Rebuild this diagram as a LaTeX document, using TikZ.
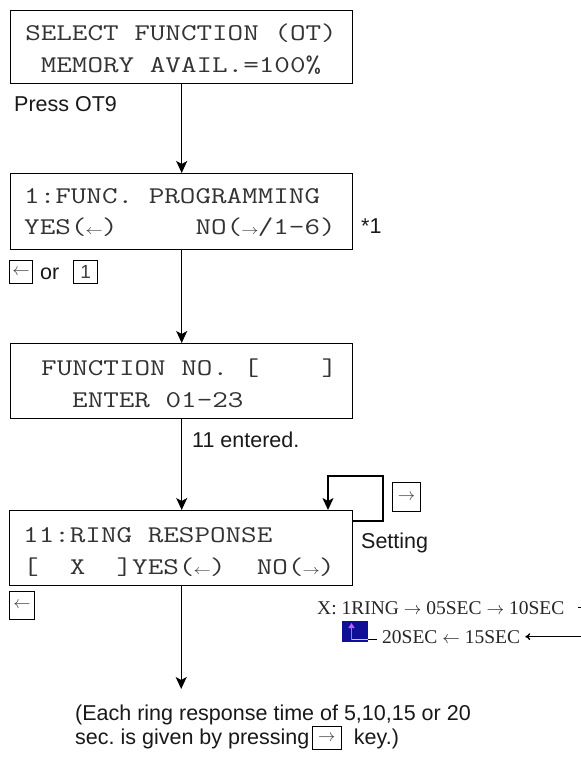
\documentclass[tikz,border=0pt]{standalone}
\usepackage{fontspec}
\setmainfont{Liberation Sans}
\newfontfamily\tmsfont{Liberation Serif}
\usepackage{graphicx}
\usetikzlibrary{arrows.meta}
\frenchspacing
\definecolor{navyicon}{RGB}{16,16,150}
\definecolor{pinkarrow}{RGB}{200,90,255}
\definecolor{yellowline}{RGB}{230,230,0}
\newcommand\lcdtext[1]{\scalebox{1.26}[1]{\fontsize{24}{28}\ttfamily\color{black!80}#1}}
\newcommand\lcdla{\makebox[\fontdimen2\font]{\scalebox{0.55}{$\leftarrow$}}}
\newcommand\lcdra{\makebox[\fontdimen2\font]{\scalebox{0.55}{$\rightarrow$}}}
\begin{document}
\begin{tikzpicture}[x=1pt,y=-1pt,
  dbox/.style={draw, line width=1.4pt, inner sep=0, anchor=north west},
  lcd/.style={inner sep=0, anchor=base west},
  lbl/.style={inner sep=0, anchor=base west, font=\fontsize{21.5}{24}\selectfont, text=black!90},
  keybox/.style={draw, line width=1.1pt, inner sep=0, anchor=north west, font=\fontsize{17}{20}\selectfont, text=black!75},
  arr/.style={line width=1.4pt, -{Stealth[length=12pt,width=11pt,inset=3pt]}},
  conn/.style={line width=1.4pt},
  xtext/.style={inner sep=0, anchor=base west, font=\tmsfont\fontsize{19.5}{22}\selectfont, text=black!85}]

\useasboundingbox (0,0) rectangle (581,758);
\fill[white] (0,0) rectangle (581,758);

% box 1
\node[dbox, minimum width=342pt, minimum height=73pt] (b1) at (10,10) {};
\node[lcd, anchor=base] (t1a) at (181,40) {\lcdtext{SELECT~FUNCTION~(OT)}};
\node[lcd, anchor=base] (t1b) at (181,72) {\lcdtext{MEMORY~AVAIL.=100\%}};
\node[lbl] (press) at (14,111) {Press OT9};

% box 2
\node[dbox, minimum width=342pt, minimum height=76pt] (b2) at (10,173) {};
\node[lcd] (t2a) at (24,203) {\lcdtext{1:FUNC.~PROGRAMMING}};
\node[lcd] (t2b) at (24,234) {\lcdtext{YES(\lcdla)~~~~~NO(\lcdra/1-6)}};
\node[lbl] (star) at (361,233) {*1};
\node[keybox, minimum width=23pt, minimum height=23pt] (k1) at (9,260) {$\leftarrow$};
\node[lbl] (or) at (40,279) {or};
\node[keybox, minimum width=24pt, minimum height=23pt, font=\fontsize{19}{20}\selectfont] (k2) at (73,260) {1};

% box 3
\node[dbox, minimum width=342pt, minimum height=75pt] (b3) at (10,343) {};
\node[lcd] (t3a) at (41,375) {\lcdtext{FUNCTION~NO.~[~~~~]}};
\node[lcd] (t3b) at (72,407) {\lcdtext{ENTER~01-23}};
\node[lbl] (entered) at (192,447.5) {11 entered.};

% box 4
\node[dbox, minimum width=343pt, minimum height=75pt] (b4) at (9,510) {};
\node[lcd] (t4a) at (23,542) {\lcdtext{11:RING~RESPONSE}};
\node[lcd] (t4b) at (23,574) {\lcdtext{[~~X~~]YES(\lcdla)~~NO(\lcdra)}};
\node[keybox, minimum width=28pt, minimum height=29pt] (k3) at (392,482) {$\rightarrow$};
\node[lbl] (setting) at (361,548) {Setting};
\node[keybox, minimum width=25pt, minimum height=28pt] (k4) at (9,591) {$\leftarrow$};

% X sequence
\node[xtext] (x1) at (317,614) {X: 1RING \scalebox{0.85}{$\rightarrow$} 05SEC \scalebox{0.85}{$\rightarrow$} 10SEC};
\node[xtext] (x2) at (382,643) {20SEC \scalebox{0.85}{$\leftarrow$} 15SEC};
\node[fill=navyicon, minimum width=26pt, minimum height=21pt, inner sep=0, anchor=north west] (icon) at (342,621) {};
\draw[yellowline, line width=1.5pt] (351,639.5) -- (368,639.5);
\draw[pinkarrow, line width=1.3pt, -{Triangle[length=5pt,width=6pt]}] (351.5,640) -- (351.5,623);
\draw[line width=1.2pt] (368,639.5) -- (377,639.5);
\coordinate (xedge) at (582,0);
\path (x1.east) ++(14,0) coordinate (x1e);
\path (x2.east) ++(5,0) coordinate (x2e);
\draw[conn] (x1e) -- (x1e -| xedge);
\draw[conn, -{To[length=5pt,width=7pt]}] (x2e -| xedge) -- (x2e);

% connectors
\draw[arr] (b1.south) -- (b2.north);
\draw[arr] (b2.south) -- (b3.north);
\draw[arr] (b3.south) -- (b3.south |- b4.north);
\coordinate (lpR) at (383,521);
\coordinate (lpT) at (383,476);
\coordinate (lpL) at (328,476);
\draw[arr] (b4.east |- lpR) -- (lpR) -- (lpT) -- (lpL) -- (lpL |- b4.north);
\coordinate (endp) at (181,689);
\draw[arr] (b4.south) -- (b4.south |- endp);

% bottom note
\node[lbl] (n1) at (75,720.5) {(Each ring response time of 5,10,15 or 20};
\node[lbl] (n2) at (75,744.5) {sec. is given by pressing};
\node[keybox, minimum width=29pt, minimum height=23pt, anchor=north west] (k5) at ([xshift=2pt]n2.east |- 0,726) {\raisebox{-4pt}{$\rightarrow$}};
\node[lbl] (n3) at ([xshift=12pt]k5.east |- n2.base) {key.)};
\end{tikzpicture}
\end{document}
